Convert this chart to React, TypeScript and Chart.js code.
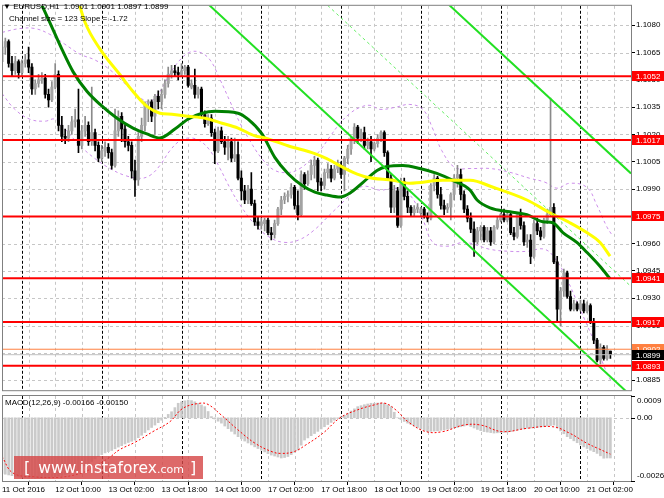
import React, { useEffect, useRef } from 'react';
import { Chart, registerables } from 'chart.js';

Chart.register(...registerables);

// ---------- DATA ----------
const openPrices = [
  1.1060, 1.1068, 1.1071, 1.1059, 1.1055, 1.1060, 1.1054, 1.1059, 1.1061, 1.1057,
  1.1045, 1.1048, 1.1050, 1.1051, 1.1042, 1.1039, 1.1046, 1.1053, 1.1025, 1.1019,
  1.1018, 1.1022, 1.1027, 1.1028, 1.1014, 1.1022, 1.1025, 1.1016, 1.1021, 1.1014,
  1.1007, 1.1011, 1.1013, 1.1010, 1.1003, 1.1022, 1.1030, 1.1023, 1.1016, 1.1014,
  1.1000, 1.0995, 1.1019, 1.1025, 1.1037, 1.1038, 1.1030, 1.1041, 1.1038, 1.1042,
  1.1048, 1.1053, 1.1055, 1.1054, 1.1053, 1.1055, 1.1057, 1.1046, 1.1047, 1.1042,
  1.1045, 1.1031, 1.1026, 1.1029, 1.1021, 1.1011, 1.1022, 1.1016, 1.1013, 1.1016,
  1.1007, 1.1009, 1.0996, 1.0989, 1.0984, 1.0990, 1.0982, 1.0972, 1.0970, 1.0971,
  1.0973, 1.0966, 1.0965, 1.0971, 1.0979, 1.0984, 1.0986, 1.0987, 1.0991, 1.0981,
  1.0976, 1.0998, 1.0993, 1.0998, 1.1003, 1.1006, 1.0994, 1.0992, 1.0999, 1.1001,
  1.0996, 1.1001, 1.1003, 1.0998, 1.1007, 1.1012, 1.1018, 1.1024, 1.1018, 1.1021,
  1.1014, 1.1016, 1.1012, 1.1015, 1.1018, 1.1021, 1.1010, 1.0996, 1.0980, 1.0989,
  1.0970, 1.0994, 1.0986, 1.0980, 1.0977, 1.0979, 1.0977, 1.0979, 1.0975, 1.0974,
  1.0992, 1.0996, 1.0987, 1.0981, 1.0979, 1.0980, 1.0987, 1.0996, 1.0998, 1.0987,
  1.0979, 1.0974, 1.0968, 1.0961, 1.0967, 1.0969, 1.0962, 1.0967, 1.0961, 1.0969,
  1.0973, 1.0976, 1.0973, 1.0976, 1.0966, 1.0964, 1.0976, 1.0970, 1.0961, 1.0962,
  1.0953, 1.0971, 1.0967, 1.0964, 1.0973, 1.0976, 1.0980, 1.0950, 1.0924, 1.0934,
  1.0944, 1.0931, 1.0924, 1.0927, 1.0924, 1.0927, 1.0923, 1.0926, 1.0917, 1.0907,
  1.0896, 1.0903, 1.0897, 1.0901,
];
const highPrices = [
  1.1073, 1.1073, 1.1072, 1.1063, 1.1063, 1.1061, 1.1061, 1.1064, 1.1068, 1.1059,
  1.1050, 1.1053, 1.1054, 1.1053, 1.1045, 1.1049, 1.1059, 1.1055, 1.1030, 1.1023,
  1.1025, 1.1030, 1.1034, 1.1045, 1.1025, 1.1030, 1.1027, 1.1046, 1.1023, 1.1016,
  1.1014, 1.1016, 1.1015, 1.1012, 1.1034, 1.1033, 1.1032, 1.1025, 1.1019, 1.1016,
  1.1006, 1.1021, 1.1029, 1.1038, 1.1039, 1.1039, 1.1042, 1.1044, 1.1045, 1.1050,
  1.1057, 1.1058, 1.1058, 1.1057, 1.1059, 1.1058, 1.1058, 1.1050, 1.1056, 1.1046,
  1.1046, 1.1033, 1.1031, 1.1031, 1.1023, 1.1024, 1.1024, 1.1019, 1.1019, 1.1018,
  1.1018, 1.1016, 1.1000, 1.0992, 1.0992, 1.0999, 1.0984, 1.0975, 1.0974, 1.0974,
  1.0974, 1.0969, 1.0973, 1.0980, 1.0986, 1.0988, 1.0989, 1.0993, 1.0992, 1.0989,
  1.1000, 1.0999, 1.1000, 1.1006, 1.1008, 1.1007, 1.0996, 1.1001, 1.1004, 1.1003,
  1.1003, 1.1006, 1.1005, 1.1008, 1.1014, 1.1019, 1.1026, 1.1025, 1.1023, 1.1024,
  1.1018, 1.1019, 1.1016, 1.1020, 1.1022, 1.1022, 1.1011, 1.0998, 1.0992, 1.0991,
  1.0996, 1.0996, 1.0989, 1.0981, 1.0981, 1.0982, 1.0980, 1.0980, 1.0977, 1.0993,
  1.0998, 1.0997, 1.0991, 1.0984, 1.0982, 1.0988, 1.0998, 1.1003, 1.1001, 1.0989,
  1.0981, 1.0977, 1.0972, 1.0969, 1.0970, 1.0970, 1.0969, 1.0969, 1.0970, 1.0975,
  1.0977, 1.0979, 1.0978, 1.0977, 1.0969, 1.0977, 1.0979, 1.0972, 1.0965, 1.0965,
  1.0973, 1.0974, 1.0969, 1.0974, 1.0979, 1.1040, 1.0982, 1.0953, 1.0936, 1.0946,
  1.0945, 1.0934, 1.0929, 1.0928, 1.0929, 1.0929, 1.0928, 1.0927, 1.0919, 1.0908,
  1.0905, 1.0904, 1.0904, 1.0901,
];
const lowPrices = [
  1.1057, 1.1064, 1.1057, 1.1052, 1.1053, 1.1051, 1.1052, 1.1057, 1.1054, 1.1042,
  1.1042, 1.1046, 1.1048, 1.1040, 1.1035, 1.1038, 1.1045, 1.1022, 1.1016, 1.1015,
  1.1016, 1.1020, 1.1024, 1.1010, 1.1012, 1.1019, 1.1014, 1.1014, 1.1011, 1.1005,
  1.1005, 1.1008, 1.1007, 1.1001, 1.1002, 1.1019, 1.1016, 1.1013, 1.1011, 1.0996,
  1.0986, 1.0992, 1.1016, 1.1022, 1.1027, 1.1027, 1.1020, 1.1034, 1.1034, 1.1040,
  1.1046, 1.1051, 1.1052, 1.1050, 1.1052, 1.1053, 1.1046, 1.1045, 1.1040, 1.1040,
  1.1029, 1.1024, 1.1025, 1.1019, 1.1004, 1.1010, 1.1015, 1.1009, 1.1006, 1.1005,
  1.1005, 1.0995, 1.0984, 1.0982, 1.0982, 1.0981, 1.0970, 1.0968, 1.0968, 1.0967,
  1.0965, 1.0962, 1.0963, 1.0970, 1.0976, 1.0982, 1.0983, 1.0985, 1.0979, 1.0973,
  1.0975, 1.0990, 1.0992, 1.0995, 1.0996, 1.0989, 1.0989, 1.0990, 1.0996, 1.0994,
  1.0995, 1.0999, 1.0996, 1.0989, 1.1004, 1.1009, 1.1015, 1.1015, 1.1016, 1.1012,
  1.1012, 1.1005, 1.1011, 1.1013, 1.1016, 1.1008, 1.0995, 1.0977, 1.0977, 1.0969,
  1.0969, 1.0984, 1.0977, 1.0975, 1.0975, 1.0977, 1.0975, 1.0974, 1.0972, 1.0973,
  1.0989, 1.0985, 1.0979, 1.0976, 1.0977, 1.0973, 1.0984, 1.0991, 1.0984, 1.0977,
  1.0972, 1.0966, 1.0953, 1.0960, 1.0962, 1.0961, 1.0961, 1.0959, 1.0960, 1.0968,
  1.0972, 1.0972, 1.0972, 1.0965, 1.0962, 1.0963, 1.0968, 1.0959, 1.0958, 1.0949,
  1.0952, 1.0965, 1.0962, 1.0963, 1.0971, 1.0975, 1.0949, 1.0917, 1.0915, 1.0931,
  1.0930, 1.0923, 1.0923, 1.0923, 1.0923, 1.0922, 1.0922, 1.0916, 1.0905, 1.0895,
  1.0894, 1.0896, 1.0896, 1.0897,
];
const closePrices = [
  1.1068, 1.1071, 1.1059, 1.1055, 1.1060, 1.1054, 1.1059, 1.1061, 1.1057, 1.1045,
  1.1048, 1.1050, 1.1051, 1.1042, 1.1039, 1.1046, 1.1053, 1.1025, 1.1019, 1.1018,
  1.1022, 1.1027, 1.1028, 1.1014, 1.1022, 1.1025, 1.1016, 1.1021, 1.1014, 1.1007,
  1.1011, 1.1013, 1.1010, 1.1003, 1.1022, 1.1030, 1.1023, 1.1016, 1.1014, 1.1000,
  1.0995, 1.1019, 1.1025, 1.1037, 1.1038, 1.1030, 1.1041, 1.1038, 1.1042, 1.1048,
  1.1053, 1.1055, 1.1054, 1.1053, 1.1055, 1.1057, 1.1047, 1.1048, 1.1042, 1.1045,
  1.1031, 1.1026, 1.1029, 1.1021, 1.1011, 1.1022, 1.1016, 1.1013, 1.1016, 1.1007,
  1.1009, 1.0996, 1.0989, 1.0984, 1.0990, 1.0982, 1.0972, 1.0970, 1.0972, 1.0973,
  1.0966, 1.0965, 1.0971, 1.0979, 1.0984, 1.0986, 1.0987, 1.0991, 1.0981, 1.0976,
  1.0998, 1.0993, 1.0998, 1.1003, 1.1006, 1.0994, 1.0992, 1.0999, 1.1001, 1.0996,
  1.1001, 1.1003, 1.0998, 1.1007, 1.1012, 1.1018, 1.1024, 1.1018, 1.1021, 1.1014,
  1.1016, 1.1012, 1.1015, 1.1018, 1.1021, 1.1010, 1.0996, 1.0980, 1.0989, 1.0970,
  1.0994, 1.0986, 1.0980, 1.0977, 1.0979, 1.0980, 1.0979, 1.0975, 1.0974, 1.0992,
  1.0996, 1.0987, 1.0981, 1.0979, 1.0980, 1.0987, 1.0996, 1.0998, 1.0987, 1.0979,
  1.0974, 1.0968, 1.0961, 1.0967, 1.0969, 1.0962, 1.0967, 1.0961, 1.0969, 1.0973,
  1.0976, 1.0973, 1.0976, 1.0966, 1.0964, 1.0976, 1.0970, 1.0961, 1.0962, 1.0953,
  1.0971, 1.0967, 1.0964, 1.0973, 1.0976, 1.0980, 1.0950, 1.0924, 1.0934, 1.0944,
  1.0931, 1.0924, 1.0927, 1.0924, 1.0927, 1.0923, 1.0926, 1.0917, 1.0907, 1.0896,
  1.0903, 1.0897, 1.0902, 1.0899,
];

// slow moving average (yellow), read at sparse bar positions
const maSlowBars = [22.3, 25.0, 29.5, 35.5, 39.4, 43.6, 47.5, 51.1, 55.9, 61.1, 66.2, 71.0, 76.1, 79.1, 86.0, 94.1, 97.7, 102.6, 105.6, 109.8, 117.6, 122.7, 132.6, 140.8, 147.7, 157.9, 164.8, 170.8, 175.9, 179.9, 182.9];
const maSlowValues = [1.10977, 1.10815, 1.10669, 1.10528, 1.10436, 1.10354, 1.10317, 1.10311, 1.10300, 1.10289, 1.10262, 1.10235, 1.10192, 1.10181, 1.10138, 1.10095, 1.10067, 1.10019, 1.09992, 1.09965, 1.09948, 1.09932, 1.09948, 1.09948, 1.09910, 1.09840, 1.09770, 1.09715, 1.09661, 1.09607, 1.09531];

// fast moving average (dark green)
const maFastBars = [11.4, 14.4, 18.0, 21.4, 25.6, 29.5, 34.6, 39.4, 43.6, 47.5, 52.0, 55.9, 60.2, 64.1, 71.0, 74.0, 78.2, 82.1, 86.0, 90.2, 94.1, 97.7, 101.7, 104.7, 108.6, 112.8, 115.8, 120.6, 125.7, 130.8, 135.6, 140.8, 142.9, 146.8, 152.8, 157.9, 162.7, 165.7, 168.7, 172.9, 175.9, 179.8, 182.9];
const maFastValues = [1.10934, 1.10815, 1.10669, 1.10544, 1.10436, 1.10365, 1.10289, 1.10235, 1.10203, 1.10181, 1.10230, 1.10284, 1.10317, 1.10327, 1.10317, 1.10284, 1.10203, 1.10073, 1.09986, 1.09921, 1.09883, 1.09867, 1.09856, 1.09878, 1.09937, 1.10002, 1.10024, 1.10030, 1.10013, 1.09986, 1.09948, 1.09894, 1.09840, 1.09797, 1.09775, 1.09759, 1.09721, 1.09715, 1.09661, 1.09607, 1.09553, 1.09477, 1.09407];

// envelope bands (purple dashed)
const bandUpperBars = [0, 5.4, 9.9, 14.4, 18.9, 23.5, 28.0, 32.5, 37.0, 41.5, 44.5, 47.5, 50.5, 53.5, 56.5, 59.5, 62.6, 65.6, 68.6, 71.6, 74.6, 78.2, 82.1, 86.6, 89.6, 92.6, 95.6, 98.6, 101.7, 104.7, 107.7, 110.7, 113.7, 118.2, 122.7, 126.6, 129.6, 132.3, 136.2, 140.8, 146.8, 152.8, 158.8, 163.3, 166.9, 170.8, 175.9, 178.9, 181.9, 183.4];
const bandUpperValues = [1.10761, 1.10782, 1.10782, 1.10750, 1.10696, 1.10641, 1.10609, 1.10555, 1.10479, 1.10403, 1.10381, 1.10436, 1.10533, 1.10609, 1.10652, 1.10652, 1.10609, 1.10501, 1.10381, 1.10262, 1.10165, 1.10067, 1.10002, 1.09992, 1.10013, 1.10057, 1.10111, 1.10187, 1.10262, 1.10316, 1.10349, 1.10360, 1.10338, 1.10349, 1.10365, 1.10338, 1.10230, 1.10111, 1.10019, 1.10013, 1.10013, 1.09992, 1.09959, 1.09938, 1.09905, 1.09932, 1.09910, 1.09813, 1.09694, 1.09650];
const bandLowerBars = [0, 3.9, 8.4, 12.9, 15.9, 18.9, 23.5, 28.0, 32.5, 37.0, 41.5, 44.5, 47.5, 50.5, 53.5, 56.5, 59.5, 62.6, 65.6, 68.6, 71.6, 76.1, 80.6, 85.1, 89.6, 94.1, 98.6, 103.2, 106.2, 109.2, 113.7, 118.2, 122.7, 126.6, 129.6, 133.8, 139.2, 146.8, 152.8, 157.9, 163.3, 166.9, 169.9, 173.8, 178.3, 181.9, 183.4];
const bandLowerValues = [1.10425, 1.10338, 1.10284, 1.10273, 1.10284, 1.10230, 1.10138, 1.10067, 1.10013, 1.09975, 1.09959, 1.09975, 1.10030, 1.10111, 1.10165, 1.10181, 1.10165, 1.10111, 1.10013, 1.09905, 1.09813, 1.09705, 1.09634, 1.09607, 1.09623, 1.09678, 1.09759, 1.09840, 1.09894, 1.09916, 1.09894, 1.09905, 1.09867, 1.09732, 1.09607, 1.09586, 1.09607, 1.09569, 1.09558, 1.09558, 1.09569, 1.09504, 1.09407, 1.09244, 1.09055, 1.08892, 1.08838];

// regression channel (slope -1.72 pips / bar)
const channelBars = [59.55, 189.2];
const channelUpper = [1.12180, 1.09986];
const channelMiddle = [1.11559, 1.09365];
const channelLower = [1.10958, 1.08764];

// horizontal levels
const levels = [1.1052, 1.1017, 1.0975, 1.0941, 1.0917, 1.0893];
const askLevel = 1.0902;
const bidLevel = 1.0899;

// price axis ticks
const priceTicks = [1.1080, 1.1065, 1.1050, 1.1035, 1.1020, 1.1005, 1.0990, 1.0975, 1.0960, 1.0945, 1.0930, 1.0915, 1.0900, 1.0885];
const priceMin = 1.08795;
const priceMax = 1.10907;

// time axis
const timeTickBars = [0, 16, 32, 48, 64, 80, 96, 112, 128, 144, 160, 176];
const timeTickLabels = ['11 Oct 2016', '12 Oct 10:00', '13 Oct 02:00', '13 Oct 18:00', '14 Oct 10:00', '17 Oct 02:00', '17 Oct 18:00', '18 Oct 10:00', '19 Oct 02:00', '19 Oct 18:00', '20 Oct 10:00', '21 Oct 02:00'];
const gridBars = [0, 8, 16, 24, 32, 40, 48, 56, 64, 72, 80, 88, 96, 104, 112, 120, 128, 136, 144, 152, 160, 168, 176, 184];
const daySeparatorBars = [6, 30, 54, 78, 102, 126, 150, 174];
const barMin = 0;
const barMax = 189.2;

// MACD(12,26,9)
const macdHist = [
  -0.00230, -0.00233, -0.00236, -0.00239, -0.00242, -0.00244, -0.00246, -0.00248, -0.00250, -0.00250,
  -0.00251, -0.00250, -0.00249, -0.00248, -0.00247, -0.00245, -0.00243, -0.00241, -0.00238, -0.00234,
  -0.00230, -0.00226, -0.00222, -0.00217, -0.00210, -0.00200, -0.00190, -0.00180, -0.00170, -0.00160,
  -0.00152, -0.00145, -0.00140, -0.00135, -0.00128, -0.00121, -0.00115, -0.00108, -0.00102, -0.00097,
  -0.00092, -0.00082, -0.00072, -0.00061, -0.00050, -0.00040, -0.00030, -0.00020, -0.00010, 0.00002,
  0.00014, 0.00025, 0.00042, 0.00060, 0.00066, 0.00070, 0.00073, 0.00071, 0.00066, 0.00060,
  0.00053, 0.00046, 0.00026, 0.00005, -0.00005, -0.00014, -0.00022, -0.00034, -0.00045, -0.00056,
  -0.00067, -0.00078, -0.00087, -0.00096, -0.00104, -0.00112, -0.00120, -0.00127, -0.00134, -0.00141,
  -0.00148, -0.00154, -0.00158, -0.00162, -0.00166, -0.00164, -0.00160, -0.00152, -0.00143, -0.00133,
  -0.00113, -0.00092, -0.00083, -0.00074, -0.00065, -0.00056, -0.00046, -0.00037, -0.00028, -0.00019,
  -0.00010, -0.00003, 0.00004, 0.00010, 0.00019, 0.00028, 0.00037, 0.00046, 0.00050, 0.00054,
  0.00057, 0.00060, 0.00060, 0.00061, 0.00061, 0.00060, 0.00053, 0.00046, 0.00023, 0.00000,
  -0.00007, -0.00015, -0.00022, -0.00028, -0.00034, -0.00040, -0.00046, -0.00052, -0.00057, -0.00056,
  -0.00055, -0.00054, -0.00052, -0.00050, -0.00047, -0.00045, -0.00042, -0.00040, -0.00037, -0.00034,
  -0.00030, -0.00036, -0.00042, -0.00048, -0.00053, -0.00057, -0.00059, -0.00061, -0.00063, -0.00062,
  -0.00061, -0.00060, -0.00059, -0.00057, -0.00054, -0.00051, -0.00048, -0.00046, -0.00043, -0.00042,
  -0.00041, -0.00040, -0.00038, -0.00037, -0.00034, -0.00032, -0.00030, -0.00042, -0.00054, -0.00066,
  -0.00078, -0.00086, -0.00095, -0.00103, -0.00112, -0.00120, -0.00127, -0.00134, -0.00140, -0.00147,
  -0.00157, -0.00167, -0.00166, -0.00166,
];
const signalBars = [0, 3.3, 10, 17, 24, 28, 32.5, 35.2, 40.3, 45.4, 50.5, 54.4, 59.5, 62, 65.9, 71, 76.1, 81.2, 83.9, 87.8, 91.4, 96.5, 101.7, 106.8, 111.9, 115.2, 118.5, 122.1, 127.5, 132.6, 138.9, 144, 150.4, 158.2, 165.7, 170.8, 175.9, 179.5, 183];
const signalValues = [-0.0016, -0.00228, -0.00244, -0.00246, -0.00228, -0.002, -0.00162, -0.00133, -0.00099, -0.00057, -0.00016, 0.00039, 0.0006, 0.00055, 0.00012, -0.0005, -0.00105, -0.0014, -0.00147, -0.0014, -0.00112, -0.00064, 0, 0.00032, 0.00053, 0.0006, 0.00032, -0.00016, -0.00057, -0.00057, -0.0003, -0.0003, -0.00057, -0.00043, -0.00037, -0.00064, -0.00105, -0.00128, -0.0015];
const macdMin = -0.00261;
const macdMax = 0.0009;
const macdTickValues = [0.0009, 0, -0.00261];
const macdTickLabels = ['0.0009', '0.00', '-0.00261'];

// ---------- STYLE ----------
const FONT = '"Liberation Sans", Arial, sans-serif';
const BULL = '#a3a3a3';
const BULL_WICK = '#8a8a8a';
const BEAR = '#000000';

function pts(xs: number[], ys: number[]) {
  return xs.map((x, i) => ({ x, y: ys[i] }));
}

function makeGridPlugin(hValues: number[]) {
  return {
    id: 'mtGrid',
    beforeDatasetsDraw(chart: any) {
      const { ctx, chartArea: a, scales } = chart;
      const xs = scales.x;
      const ys = scales.y;
      ctx.save();
      ctx.beginPath();
      ctx.rect(a.left, a.top, a.right - a.left, a.bottom - a.top);
      ctx.clip();
      ctx.lineWidth = 1;
      ctx.setLineDash([3, 3]);
      ctx.strokeStyle = '#c6c6c6';
      ctx.beginPath();
      for (const b of gridBars) {
        const x = Math.round(xs.getPixelForValue(b)) + 0.5;
        ctx.moveTo(x, a.top);
        ctx.lineTo(x, a.bottom);
      }
      for (const v of hValues) {
        const y = Math.round(ys.getPixelForValue(v)) + 0.5;
        ctx.moveTo(a.left, y);
        ctx.lineTo(a.right, y);
      }
      ctx.stroke();
      ctx.strokeStyle = '#000';
      ctx.setLineDash([3, 2]);
      ctx.beginPath();
      for (const b of daySeparatorBars) {
        const x = Math.round(xs.getPixelForValue(b)) + 0.5;
        ctx.moveTo(x, a.top);
        ctx.lineTo(x, a.bottom);
      }
      ctx.stroke();
      ctx.restore();
    },
    afterDraw(chart: any) {
      const { ctx, chartArea: a } = chart;
      ctx.save();
      ctx.strokeStyle = '#808080';
      ctx.lineWidth = 1;
      ctx.strokeRect(a.left + 0.5, a.top - 0.5, a.right - a.left, a.bottom - a.top + 1);
      ctx.restore();
    },
  };
}

const levelLabelPlugin = {
  id: 'levelLabels',
  afterDraw(chart: any) {
    const { ctx, chartArea: a, scales } = chart;
    const ys = scales.y;
    ctx.save();
    ctx.font = '8px ' + FONT;
    ctx.textBaseline = 'middle';
    ctx.textAlign = 'left';
    const draw = (v: number, bg: string) => {
      const py = Math.round(ys.getPixelForValue(v));
      ctx.fillStyle = bg;
      ctx.fillRect(a.right + 1, py - 5, 40, 10);
      ctx.fillStyle = '#ffffff';
      ctx.fillText(v.toFixed(4), a.right + 5, py + 0.5);
    };
    levels.forEach((v) => draw(v, '#ff0000'));
    draw(askLevel, '#ff8040');
    draw(bidLevel, '#000000');
    ctx.restore();
  },
};

const macdLabelPlugin = {
  id: 'macdLabels',
  afterDraw(chart: any) {
    const { ctx, chartArea: a, scales } = chart;
    const ys = scales.y;
    ctx.save();
    ctx.font = '8px ' + FONT;
    ctx.fillStyle = '#000';
    ctx.strokeStyle = '#000';
    ctx.textAlign = 'left';
    macdTickValues.forEach((v, i) => {
      const py = Math.round(ys.getPixelForValue(v));
      let ty = py;
      if (i === 0) { ctx.textBaseline = 'top'; ty = py + 1; }
      else if (i === macdTickValues.length - 1) { ctx.textBaseline = 'bottom'; ty = py - 1; }
      else { ctx.textBaseline = 'middle'; }
      ctx.beginPath();
      ctx.moveTo(a.right, py + 0.5);
      ctx.lineTo(a.right + 4, py + 0.5);
      ctx.stroke();
      ctx.fillText(macdTickLabels[i], a.right + 6, ty);
    });
    ctx.restore();
  },
};

export default function App() {
  const mainRef = useRef<HTMLCanvasElement>(null);
  const macdRef = useRef<HTMLCanvasElement>(null);

  useEffect(() => {
    const bull = closePrices.map((c, i) => c >= openPrices[i]);
    const wickData = highPrices.map((h, i) => ({ x: i, y: [lowPrices[i], h] }));
    const bodyData = openPrices.map((o, i) => ({ x: i, y: [o, closePrices[i]] }));

    const lineDs = (data: any[], color: string, width: number, order: number, extra: any = {}) => ({
      type: 'line',
      data,
      borderColor: color,
      borderWidth: width,
      pointRadius: 0,
      fill: false,
      order,
      ...extra,
    });

    const datasets: any[] = [];
    levels.forEach((lv) => {
      datasets.push(lineDs(pts([barMin, barMax], [lv, lv]), '#ff0000', 2, 1));
    });
    datasets.push(lineDs(pts([barMin, barMax], [askLevel, askLevel]), '#ff8040', 1, 1));
    datasets.push(lineDs(pts([barMin, barMax], [bidLevel, bidLevel]), '#c0c0c0', 1, 1));
    datasets.push(lineDs(pts(channelBars, channelUpper), '#22e022', 2, 2));
    datasets.push(lineDs(pts(channelBars, channelLower), '#22e022', 2, 2));
    datasets.push(lineDs(pts(channelBars, channelMiddle), '#66ee66', 1, 2, { borderDash: [3, 3] }));
    datasets.push(lineDs(pts(maSlowBars, maSlowValues), '#ffff00', 3, 3, { cubicInterpolationMode: 'monotone' }));
    datasets.push(lineDs(pts(maFastBars, maFastValues), '#008000', 3, 3, { cubicInterpolationMode: 'monotone' }));
    datasets.push({
      type: 'bar',
      data: bodyData,
      backgroundColor: bull.map((b) => (b ? BULL : BEAR)),
      barThickness: 2.4,
      minBarLength: 1,
      grouped: false,
      order: 4,
    });
    datasets.push({
      type: 'bar',
      data: wickData,
      backgroundColor: bull.map((b) => (b ? BULL_WICK : BEAR)),
      barThickness: 1,
      grouped: false,
      order: 5,
    });
    datasets.push(lineDs(pts(bandUpperBars, bandUpperValues), '#cc8eea', 1, 6, { borderDash: [3, 3], tension: 0.4 }));
    datasets.push(lineDs(pts(bandLowerBars, bandLowerValues), '#cc8eea', 1, 6, { borderDash: [3, 3], tension: 0.4 }));

    const mainChart = new Chart(mainRef.current as HTMLCanvasElement, {
      type: 'bar',
      data: { datasets },
      options: {
        animation: false,
        responsive: false,
        devicePixelRatio: 1,
        events: [],
        layout: { padding: { left: 2, top: 3, right: 0, bottom: 3 } },
        plugins: { legend: { display: false }, tooltip: { enabled: false } },
        scales: {
          x: { type: 'linear', display: false, min: barMin, max: barMax, offset: false },
          y: {
            type: 'linear',
            position: 'right',
            min: priceMin,
            max: priceMax,
            bounds: 'data',
            beginAtZero: false,
            border: { display: false },
            grid: { drawOnChartArea: false, drawTicks: true, tickLength: 4, color: '#000' },
            ticks: {
              color: '#000',
              padding: 1,
              font: { family: FONT, size: 8 },
              callback: (v: any) => Number(v).toFixed(4),
            },
            afterBuildTicks: (s: any) => { s.ticks = priceTicks.map((v) => ({ value: v })); },
            afterFit: (s: any) => { s.width = 33; },
          },
        },
      } as any,
      plugins: [makeGridPlugin(priceTicks), levelLabelPlugin],
    } as any);

    const macdChart = new Chart(macdRef.current as HTMLCanvasElement, {
      type: 'bar',
      data: {
        datasets: [
          {
            type: 'line',
            data: pts(signalBars, signalValues),
            borderColor: '#ff0000',
            borderWidth: 1,
            borderDash: [2, 2],
            pointRadius: 0,
            tension: 0.4,
            order: 1,
          },
          {
            type: 'bar',
            data: macdHist.map((v, i) => ({ x: i, y: v })),
            backgroundColor: '#cacaca',
            barThickness: 2,
            grouped: false,
            order: 2,
          },
        ],
      },
      options: {
        animation: false,
        responsive: false,
        devicePixelRatio: 1,
        events: [],
        layout: { padding: { left: 2, top: 3, right: 0, bottom: 0 } },
        plugins: { legend: { display: false }, tooltip: { enabled: false } },
        scales: {
          x: {
            type: 'linear',
            min: barMin,
            max: barMax,
            offset: false,
            border: { display: false },
            grid: { drawOnChartArea: false, drawTicks: true, tickLength: 4, color: '#000' },
            ticks: {
              color: '#000',
              padding: 0,
              align: 'start',
              autoSkip: false,
              maxRotation: 0,
              minRotation: 0,
              font: { family: FONT, size: 8 },
              callback: (_v: any, i: number) => timeTickLabels[i],
            },
            afterBuildTicks: (s: any) => { s.ticks = timeTickBars.map((v) => ({ value: v })); },
            afterFit: (s: any) => { s.height = 17; },
          },
          y: {
            type: 'linear',
            position: 'right',
            min: macdMin,
            max: macdMax,
            bounds: 'data',
            border: { display: false },
            grid: { display: false },
            ticks: { display: false },
            afterFit: (s: any) => { s.width = 33; },
          },
        },
      } as any,
      plugins: [makeGridPlugin([0]), macdLabelPlugin],
    } as any);

    return () => {
      mainChart.destroy();
      macdChart.destroy();
    };
  }, []);

  const small: React.CSSProperties = {
    position: 'absolute',
    font: '8px ' + FONT,
    color: '#000',
    whiteSpace: 'pre',
    lineHeight: '10px',
  };

  return (
    <div style={{ position: 'fixed', left: 0, top: 0, width: 664, height: 498, background: '#fff', overflow: 'hidden' }}>
      <canvas ref={mainRef} width={664} height={396} style={{ position: 'absolute', left: 0, top: 0, width: 664, height: 396 }} />
      <canvas ref={macdRef} width={664} height={105} style={{ position: 'absolute', left: 0, top: 393, width: 664, height: 105 }} />
      <div style={{ ...small, left: 3, top: 2 }}>▼ EURUSD,H1  1.0901 1.0901 1.0897 1.0899</div>
      <div style={{ ...small, left: 9, top: 14 }}>Channel size = 123 Slope = -1.72</div>
      <div style={{ ...small, left: 5, top: 398 }}>MACD(12,26,9) -0.00166 -0.00150</div>
      <div
        style={{
          position: 'absolute',
          left: 14,
          top: 456,
          width: 189,
          height: 23,
          background: 'rgba(214,72,72,0.82)',
          color: '#fff',
          fontFamily: '"DejaVu Sans", sans-serif',
          lineHeight: '23px',
          whiteSpace: 'nowrap',
        }}
      >
        <span style={{ marginLeft: 10, fontSize: 16 }}>[</span>
        <span style={{ marginLeft: 8, fontSize: 15.5 }}>www.instaforex</span>
        <span style={{ fontSize: 11 }}>.com</span>
        <span style={{ marginLeft: 6, fontSize: 16 }}>]</span>
      </div>
    </div>
  );
}
